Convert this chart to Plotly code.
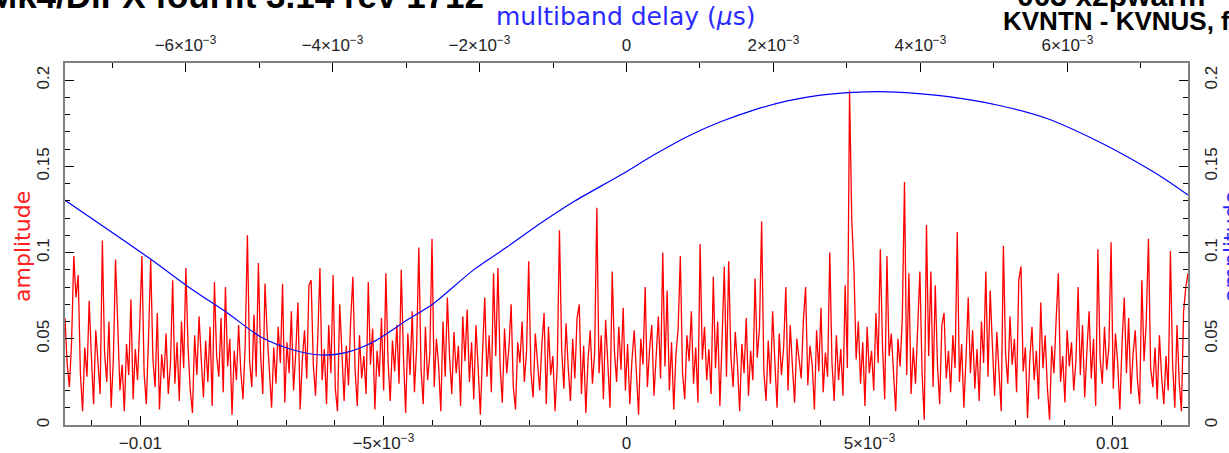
import numpy as np
import plotly.graph_objects as go

# ---------------- data ----------------
sbd_range = [-0.01155, 0.01155]     # singleband delay (us), bottom axis
mbd_range = [-0.00764, 0.00764]     # multiband delay (us), top axis
amp_range = [0, 0.21]

# singleband-delay amplitude (units of 1e-3), read left to right
sbd_amp_milli = [
    62, 35, 22, 48, 98, 74, 87, 30, 8, 45, 28, 72, 40, 12, 55, 33,
    18, 107, 42, 25, 60, 10, 38, 96, 52, 20, 35, 8, 47, 29, 73, 15,
    44, 26, 58, 98, 30, 12, 50, 96, 38, 22, 65, 9, 41, 27, 53, 18,
    36, 84, 24, 48, 14, 60, 33, 91, 45, 20, 7, 52, 29, 63, 38, 16,
    49, 25, 57, 11, 83, 40, 28, 62, 19, 80, 34, 50, 6, 43, 26, 58,
    31, 15, 47, 110, 37, 22, 64, 28, 94, 41, 18, 82, 53, 30, 10, 45,
    24, 57, 36, 82, 13, 48, 30, 66, 20, 42, 71, 9, 38, 55, 27, 81,
    84, 35, 17, 50, 91, 26, 44, 12, 58, 30, 87, 21, 8, 70, 39, 14,
    46, 23, 61, 86, 32, 11, 52, 27, 40, 18, 83, 35, 56, 9, 43, 28,
    62, 20, 88, 37, 14, 49, 31, 58, 24, 90, 40, 7, 53, 29, 66, 19,
    45, 103, 33, 12, 57, 26, 41, 108, 22, 50, 35, 8, 60, 28, 74, 39,
    18, 54, 30, 46, 11, 63, 37, 67, 25, 48, 15, 58, 33, 6, 42, 74,
    28, 52, 19, 88, 40, 91, 34, 13, 56, 30, 45, 70, 22, 9, 48, 36,
    60, 25, 42, 95, 31, 16, 53, 38, 20, 47, 65, 12, 57, 29, 40, 8,
    35, 113, 44, 21, 59, 33, 14, 50, 27, 62, 70, 18, 46, 7, 38, 55,
    24, 42, 126, 30, 52, 15, 61, 36, 10, 89, 43, 25, 57, 32, 68, 20,
    47, 12, 38, 55, 29, 6, 50, 35, 80, 22, 44, 58, 17, 39, 63, 27,
    100, 34, 78, 20, 48, 9, 41, 56, 98, 30, 15, 52, 37, 66, 24, 45,
    13, 105, 38, 57, 26, 44, 18, 86, 33, 60, 11, 50, 92, 28, 95, 40,
    22, 54, 35, 8, 47, 30, 62, 17, 43, 26, 85, 39, 56, 118, 31, 14,
    49, 24, 66, 37, 10, 53, 29, 45, 80, 20, 58, 34, 13, 50, 40, 27,
    61, 80, 23, 46, 35, 9, 55, 31, 68, 19, 42, 28, 100, 36, 14, 52,
    26, 44, 17, 81, 33, 194, 119, 90, 38, 60, 24, 48, 11, 57, 30, 43,
    20, 65, 36, 102, 45, 15, 98, 40, 53, 27, 8, 50, 34, 62, 141, 29,
    88, 18, 45, 24, 56, 89, 30, 3, 116, 40, 89, 22, 81, 35, 12, 58,
    65, 27, 43, 19, 52, 33, 112, 25, 47, 10, 39, 74, 30, 55, 21, 44,
    14, 60, 36, 89, 28, 78, 46, 17, 54, 32, 8, 104, 41, 24, 63, 35,
    50, 19, 84, 92, 31, 45, 4, 38, 57, 26, 43, 15, 71, 33, 52, 22,
    3, 46, 30, 61, 88, 25, 40, 13, 55, 34, 48, 20, 37, 80, 29, 58,
    16, 43, 66, 27, 50, 11, 102, 39, 24, 57, 32, 45, 106, 21, 53, 36,
    9, 48, 74, 30, 62, 18, 41, 55, 26, 12, 84, 37, 60, 108, 33, 22,
    45, 15, 52, 28, 12, 40, 20, 101, 35, 10, 58, 25, 8, 66, 80, 88,
]

# multiband-delay amplitude curve (top / right axes)
mbd_delay = [-0.00766, -0.00652, -0.00589, -0.00543, -0.00498, -0.00453,
             -0.00416, -0.00382, -0.00344, -0.00298, -0.00264, -0.00208,
             -0.00162, -0.00117, -0.00072, -0.00008, 0.00037, 0.00083,
             0.00128, 0.00173, 0.00219, 0.00264, 0.00309, 0.00355,
             0.00380, 0.00438, 0.00506, 0.00574, 0.00642, 0.00682,
             0.00724, 0.00764]
mbd_amp = [0.131, 0.0976, 0.078, 0.065, 0.0512, 0.0435,
           0.0406, 0.042, 0.0483, 0.061, 0.070, 0.090,
           0.1034, 0.117, 0.1295, 0.145, 0.1566, 0.1674,
           0.1759, 0.1827, 0.188, 0.1914, 0.193, 0.1933,
           0.1928, 0.1905, 0.1855, 0.1775, 0.1645, 0.1555,
           0.145, 0.1334]

sbd_ticks = [-0.01, -0.005, 0, 0.005, 0.01]
sbd_ticktext = ["\u22120.01", "\u22125\u00d710<sup>\u22123</sup>", "0",
                "5\u00d710<sup>\u22123</sup>", "0.01"]
mbd_ticks = [-0.006, -0.004, -0.002, 0, 0.002, 0.004, 0.006]
mbd_ticktext = ["\u22126\u00d710<sup>\u22123</sup>", "\u22124\u00d710<sup>\u22123</sup>",
                "\u22122\u00d710<sup>\u22123</sup>", "0",
                "2\u00d710<sup>\u22123</sup>", "4\u00d710<sup>\u22123</sup>",
                "6\u00d710<sup>\u22123</sup>"]
amp_ticks = [0, 0.05, 0.1, 0.15, 0.2]
amp_ticktext = ["0", "0.05", "0.1", "0.15", "0.2"]

sbd_amp = np.array(sbd_amp_milli) / 1000.0
sbd_delay = np.linspace(sbd_range[0], sbd_range[1], len(sbd_amp))

# ---------------- figure ----------------
W, H = 1229, 453
L, R, T, B = 65, 41, 63, 28
PW, PH = W - L - R, H - T - B


def px(x):
    return (x - L) / PW


def py(y):
    return (H - B - y) / PH


fig = go.Figure()
fig.add_trace(go.Scatter(x=sbd_delay, y=sbd_amp, mode="lines",
                         line=dict(color="#ff0000", width=1.3),
                         xaxis="x", yaxis="y", hoverinfo="skip"))
fig.add_trace(go.Scatter(x=mbd_delay, y=mbd_amp, mode="lines",
                         line=dict(color="#0000ff", width=1.2, shape="spline",
                                   smoothing=0.8),
                         xaxis="x2", yaxis="y2", hoverinfo="skip"))

tickfont = dict(family="Liberation Sans, Arial, sans-serif", size=17, color="#222222")
frame = dict(showline=True, linecolor="#808080", linewidth=2, showgrid=False,
             zeroline=False, ticks="inside", tickcolor="#000000", tickwidth=1,
             tickfont=tickfont, tickmode="array", automargin=False)
minor_x = dict(tickmode="linear", tick0=0, dtick=0.001, ticks="inside",
               ticklen=5, tickcolor="#000000", tickwidth=1)
minor_y = dict(tickmode="linear", tick0=0, dtick=0.01, ticks="inside",
               ticklen=5, tickcolor="#000000", tickwidth=1)

fig.update_layout(
    width=W, height=H, autosize=False,
    margin=dict(l=L, r=R, t=T, b=B, pad=0, autoexpand=False),
    paper_bgcolor="white", plot_bgcolor="white",
    showlegend=False, hovermode=False,
    xaxis=dict(frame, range=sbd_range, tickvals=sbd_ticks, ticktext=sbd_ticktext,
               ticklen=9, ticklabelstandoff=2, minor=minor_x),
    xaxis2=dict(frame, range=mbd_range, overlaying="x", side="top", anchor="y",
                tickvals=mbd_ticks, ticktext=mbd_ticktext, ticklen=9,
                ticklabelstandoff=3, minor=minor_x),
    yaxis=dict(frame, range=amp_range, tickvals=amp_ticks, ticktext=amp_ticktext,
               tickangle=-90, ticklen=9, ticklabelstandoff=7, minor=minor_y),
    yaxis2=dict(frame, range=amp_range, overlaying="y", side="right", anchor="x",
                tickvals=amp_ticks, ticktext=amp_ticktext, tickangle=-90,
                ticklen=9, ticklabelstandoff=7, minor=minor_y),
)

thin = "DejaVu Sans, Verdana, sans-serif"
bold = "Liberation Sans, Arial, sans-serif"
annos = [
    dict(text="multiband delay (<i>\u03bc</i>s)", x=px(625), y=py(16),
         font=dict(family=thin, size=25, color="#2a2aff"), xanchor="center", yanchor="middle"),
    dict(text="amplitude", x=px(22), y=py(247), textangle=-90,
         font=dict(family=thin, size=22, color="#ff2020"), xanchor="center", yanchor="middle"),
    dict(text="amplitude", x=px(1231), y=py(247), textangle=-90,
         font=dict(family=thin, size=22, color="#2a2aff"), xanchor="center", yanchor="middle"),
    dict(text="singleband delay (<i>\u03bc</i>s)", x=px(650), y=py(463),
         font=dict(family=thin, size=20, color="#ff2020"), xanchor="center", yanchor="middle"),
    dict(text="<b>Mk4/DiFX fourfit 3.14 rev 1712</b>", x=px(-14), y=py(-4),
         font=dict(family=bold, size=35, color="#000000"), xanchor="left", yanchor="middle"),
    dict(text="<b>003 x2pwarm</b>", x=px(1015), y=py(-4),
         font=dict(family=bold, size=30, color="#000000"), xanchor="left", yanchor="middle"),
    dict(text="<b>KVNTN - KVNUS, fgroup K, pol RR</b>", x=px(1001), y=py(21),
         font=dict(family=bold, size=26, color="#000000"), xanchor="left", yanchor="middle"),
]
for a in annos:
    a.update(xref="paper", yref="paper", showarrow=False)
    fig.add_annotation(**a)

fig.write_html("out.html", config={"displayModeBar": False},
               post_script="document.body.style.margin='0';document.body.style.overflow='hidden';")
